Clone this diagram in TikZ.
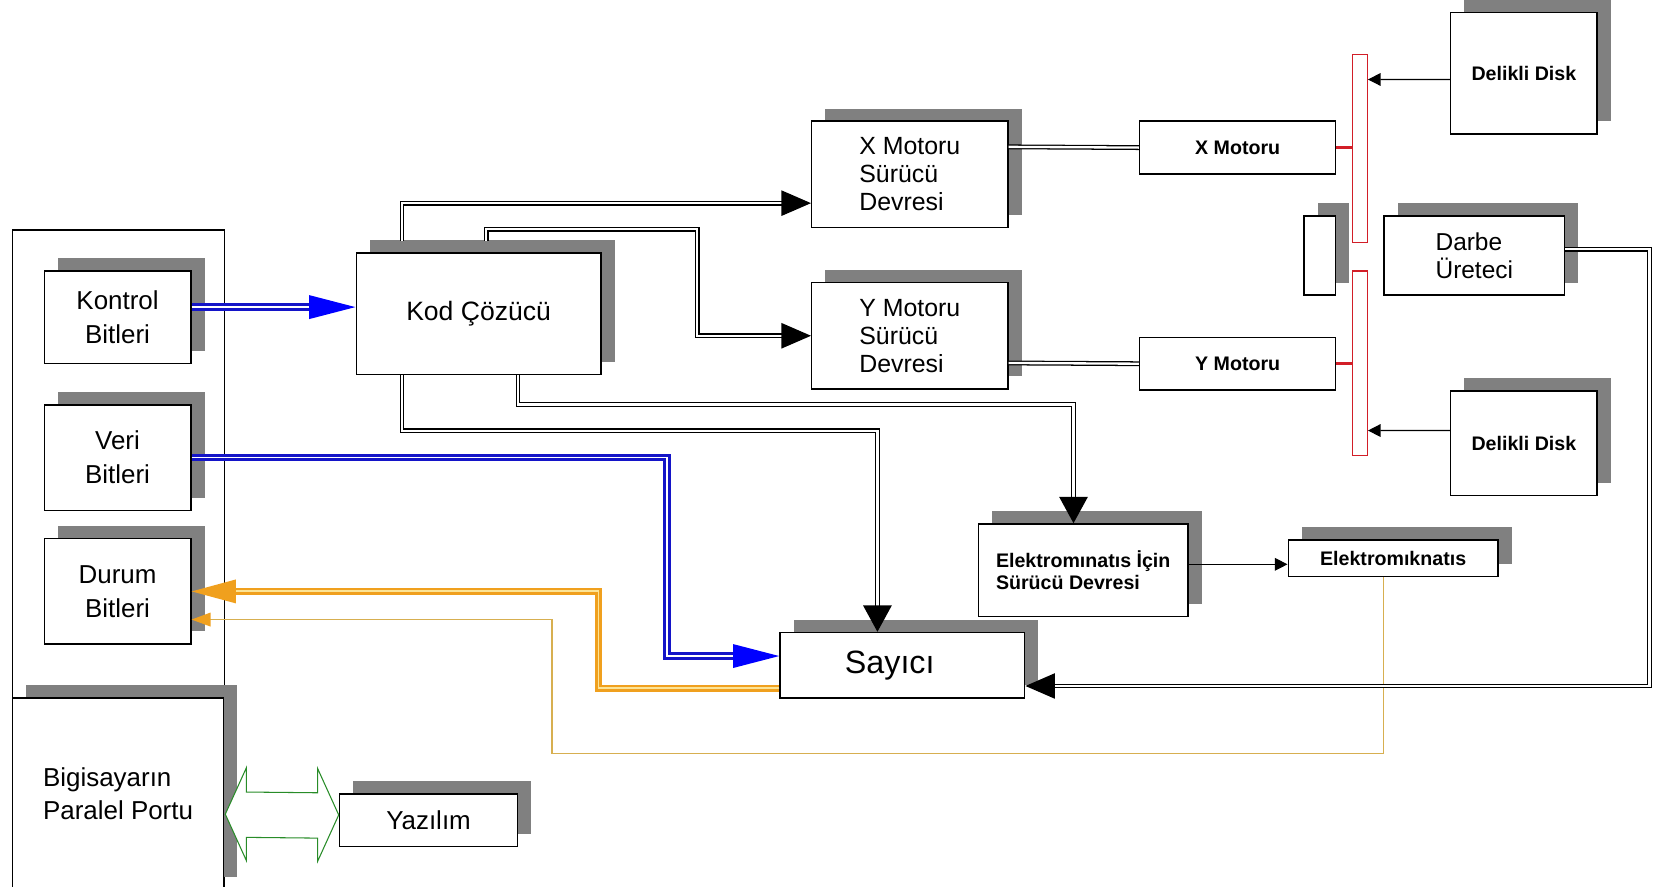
\documentclass[tikz,border=0pt]{standalone}
\usepackage{fontspec}
\setmainfont{Liberation Sans}
\usetikzlibrary{arrows.meta,calc}
\definecolor{shadowgray}{RGB}{128,128,128}
\definecolor{dblue}{RGB}{20,20,200}
\definecolor{bluehead}{RGB}{0,0,255}
\definecolor{orng}{RGB}{240,160,30}
\definecolor{paleor}{RGB}{252,228,150}
\definecolor{tanline}{RGB}{215,175,80}
\definecolor{redbar}{RGB}{210,30,40}
\definecolor{grn}{RGB}{40,140,40}
\tikzset{
  box/.style={draw,fill=white,line width=0.7pt,inner sep=0pt,align=center},
  barbox/.style={draw=redbar,fill=white,line width=0.6pt,inner sep=0pt},
  dbl/.style={draw=black,double=white,line width=0.6pt,double distance=1.1pt},
  bluedbl/.style={draw=dblue,double=white,line width=1.3pt,double distance=0.9pt},
  orngdbl/.style={draw=orng,double=paleor,line width=1.2pt,double distance=0.9pt},
  bigtip/.style={-{Triangle[length=14pt,width=12pt]}},
  downtip/.style={-{Triangle[length=12.5pt,width=13.5pt]}},
  bluetip/.style={-{Triangle[length=22pt,width=11pt,color=bluehead]}},
  orngtip/.style={-{Triangle[length=21pt,width=11pt,color=orng]}},
  smorngtip/.style={-{Triangle[length=9pt,width=6.5pt,color=orng]}},
  smtip/.style={-{Triangle[length=6pt,width=6pt]}},
  fA/.style={font=\fontsize{12.3}{16}\selectfont},
  fkod/.style={font=\fontsize{12.6}{15}\selectfont},
  fsay/.style={font=\fontsize{15.3}{18}\selectfont},
  fmot/.style={font=\fontsize{11.8}{13.25}\selectfont},
  fdar/.style={font=\fontsize{11.6}{13}\selectfont},
  fsm/.style={font=\bfseries\fontsize{9.3}{10.5}\selectfont},
}
\newcommand{\shbox}[7][]{%
  \fill[shadowgray] ({#3+13},{#4-12}) rectangle ({#5+13},{#6-12});
  \node[box,#1,minimum width={(#5-#3)*0.5pt},minimum height={(#6-#4)*0.5pt}] (#2) at ({(#3+#5)/2},{(#4+#6)/2}) {#7};
}
\newcommand{\plbox}[7][]{%
  \node[box,#1,minimum width={(#5-#3)*0.5pt},minimum height={(#6-#4)*0.5pt}] (#2) at ({(#3+#5)/2},{(#4+#6)/2}) {#7};
}
\begin{document}
\begin{tikzpicture}[x=0.5pt,y=-0.5pt]
\fill[white] (0,0) rectangle (1568,841);
\useasboundingbox (0,0) rectangle (1568,841);
% outer frame
\node[draw,line width=0.7pt,inner sep=0pt,minimum width=100.5pt,minimum height=341pt] (frame) at (112.5,559) {};
% boxes
\shbox[fA]{kontrol}{42}{257}{181}{345}{Kontrol\\Bitleri}
\shbox[fA]{veri}{42}{384}{181}{484}{Veri\\Bitleri}
\shbox[fA]{durum}{42}{511}{181}{611}{Durum\\Bitleri}
\shbox[fA,align=left]{port}{12}{662}{212}{844}{Bigisayarın\\Paralel Portu}
\shbox[fA]{yaz}{322}{753}{491}{803}{Yazılım}
\shbox[fkod]{kod}{338}{240}{570}{355}{Kod Çözücü}
\shbox[fmot,align=left]{xsd}{770}{115}{956}{216}{X Motoru\\Sürücü\\Devresi}
\shbox[fmot,align=left]{ysd}{770}{268}{956}{369}{Y Motoru\\Sürücü\\Devresi}
\plbox[fsm]{xm}{1081}{115}{1267}{165}{X Motoru}
\plbox[fsm]{ym}{1081}{320}{1267}{370}{Y Motoru}
\shbox{rot}{1237}{205}{1267}{280}{}
\shbox[fsm]{dd1}{1376}{12}{1515}{127}{Delikli Disk}
\shbox[fdar,align=left]{darbe}{1313}{205}{1484}{280}{Darbe\\Üreteci}
\shbox[fsm]{dd2}{1376}{371}{1515}{470}{Delikli Disk}
\shbox[fsm,align=left]{ed}{928}{497}{1127}{585}{Elektromınatıs İçin\\Sürücü Devresi}
\shbox[fsm]{emk}{1222}{512}{1421}{547}{Elektromıknatıs}
\shbox[fsay]{say}{740}{600}{972}{662}{\hspace*{-12pt}Sayıcı}
\node[barbox,minimum width=7pt,minimum height=89pt] (bar1) at (1290,141) {};
\node[barbox,minimum width=7pt,minimum height=87.5pt] (bar2) at (1290,344.5) {};
% connectors
\draw[bluedbl,bluetip] ($(kontrol.north east)+(0,35)$) -- ($(kod.north west)+(0,52)$);
\draw[bluedbl,bluetip] (veri.east) -- ++(451,0) |- ($(say.north west)+(0,23)$);
\draw[orngdbl,orngtip] ($(say.south west)+(0,-10)$) -| ($(durum.east)+(386,0)$) -- (durum.east);
\draw[tanline,line width=0.6pt,smorngtip] ($(emk.south west)+(91,0)$) -- ++(0,167) -| ($(durum.south east)+(342,-24)$) -- ($(durum.south east)+(0,-24)$);
\draw[dbl,bigtip] ($(kod.north west)+(44,-11)$) |- ($(xsd.south west)+(0,-24)$);
\draw[dbl,bigtip] ($(kod.north west)+(124,-11)$) -- ++(0,-11) -| ($(ysd.west)+(-108,0)$) -- (ysd.west);
\draw[dbl,downtip] ($(kod.south west)+(44,0)$) -- ++(0,53) -| ($(say.north west)+(93,0)$);
\draw[dbl,downtip] ($(kod.south west)+(154,0)$) -- ++(0,28) -| ($(ed.north west)+(91,0)$);
\draw[dbl] ($(xsd.north east)+(0,25)$) -- (xm.west);
\draw[dbl] ($(ysd.north east)+(0,77)$) -- (ym.west);
\draw[dbl,bigtip] ($(darbe.north east)+(0,32)$) -- ++(80,0) |- ($(say.south east)+(0,-12)$);
\draw[redbar,line width=1.6pt] (xm.east) -- (xm.east -| bar1.west);
\draw[redbar,line width=1.6pt] (ym.east) -- (ym.east -| bar2.west);
\draw[line width=0.6pt,smtip] ($(dd1.north west)+(0,64)$) -- ($(bar1.north east)+(0,24)$);
\draw[line width=0.6pt,smtip] ($(dd2.north west)+(0,38)$) -- ($(bar2.north east)+(0,152)$);
\draw[line width=0.6pt,smtip] ($(ed.north east)+(0,39)$) -- ($(emk.north west)+(0,24)$);
% green double arrow
\coordinate (gl) at ($(frame.north east)+(0,555)$);
\coordinate (gr) at ($(yaz.west)+(0,-5)$);
\draw[grn,fill=white,line width=0.5pt] (gl) -- ++(20,-44) -- ++(0,23) -- ($(gr)+(-20,-21)$) -- ++(0,-23) -- (gr) -- ++(-20,44) -- ++(0,-22) -- ($(gl)+(20,22)$) -- ++(0,22) -- cycle;
\end{tikzpicture}
\end{document}
